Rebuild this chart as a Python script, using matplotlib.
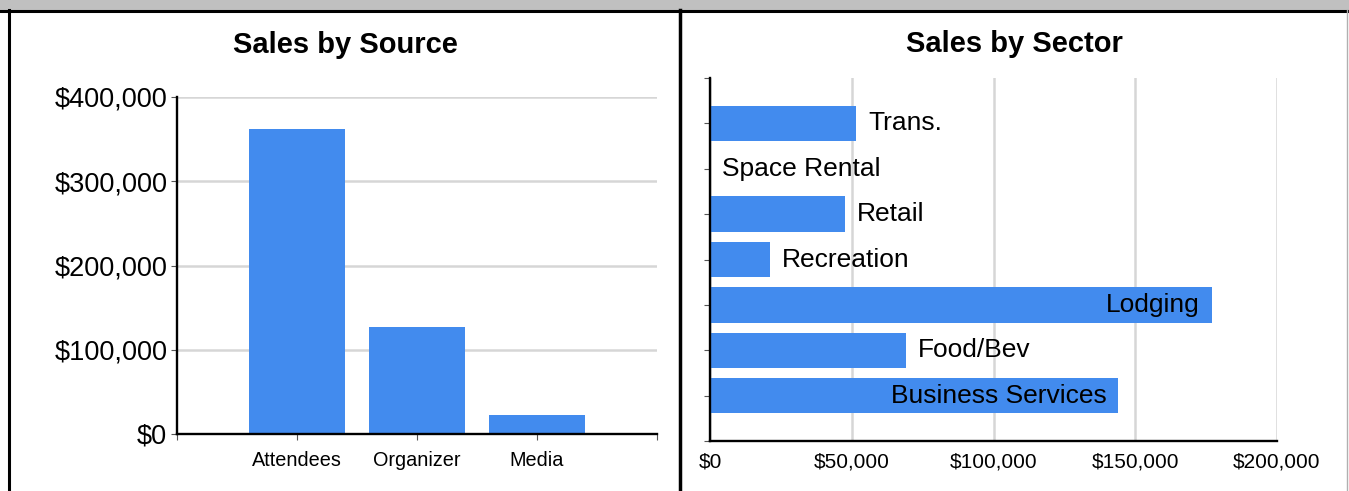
import matplotlib.pyplot as plt
from matplotlib.lines import Line2D
from matplotlib.patches import Rectangle
from matplotlib.ticker import StrMethodFormatter

plt.rcParams.update({
    "font.family": ["Liberation Sans", "DejaVu Sans"]})

# data
sources = ["Attendees", "Organizer", "Media"]
source_sales = [362000, 127000, 22500]

sectors = ["Business Services", "Food/Bev", "Lodging", "Recreation",
           "Retail", "Space Rental", "Trans."]
sector_sales = [144000, 69000, 177000, 21000, 47500, 0, 51500]

blue = "#428bee"
grid_c = "#d6d6d6"
W, H = 1349, 491

fig = plt.figure(figsize=(W / 100, H / 100), dpi=100)


def frac(x0, y0, x1, y1):
    # pixel box -> figure fraction [left, bottom, width, height]
    return [x0 / W, 1 - y1 / H, (x1 - x0) / W, (y1 - y0) / H]


# frame of the two panels
fig.add_artist(Rectangle((0, 1 - 10 / H), 1, 10 / H, transform=fig.transFigure,
                         color="#c0c0c0", lw=0))
fig.add_artist(Line2D([0, 1], [1 - 10.5 / H] * 2, transform=fig.transFigure,
                      color="black", lw=2.2))
fig.add_artist(Line2D([8.5 / W] * 2, [0, 1 - 10 / H], transform=fig.transFigure,
                      color="black", lw=2.2))
fig.add_artist(Line2D([680 / W] * 2, [0, 1 - 10 / H], transform=fig.transFigure,
                      color="black", lw=2.5))
fig.add_artist(Line2D([1346.5 / W] * 2, [0, 1 - 10 / H], transform=fig.transFigure,
                      color="#b0b0b0", lw=1))

# left: Sales by Source
ax = fig.add_axes(frac(177, 97, 657, 434))
ax.bar(range(1, len(sources) + 1), source_sales, width=0.8, color=blue, zorder=2)
ax.set_xlim(0, 4)
ax.set_ylim(0, 400000)
ax.set_yticks([0, 100000, 200000, 300000, 400000])
ax.yaxis.set_major_formatter(StrMethodFormatter("${x:,.0f}"))
ax.set_xticks(range(5))
ax.set_xticklabels([""] + sources + [""])
ax.grid(axis="y", color=grid_c, lw=1.8, zorder=0)
for s in ["top", "right"]:
    ax.spines[s].set_visible(False)
for s in ["left", "bottom"]:
    ax.spines[s].set_linewidth(1.7)
    ax.spines[s].set_zorder(3)
ax.tick_params(axis="y", length=4, width=0.8, color="#555555", pad=3,
               labelsize=19.5)
ax.tick_params(axis="x", length=4, width=0.8, color="#555555", pad=8,
               labelsize=14.3)
fig.text(345 / W, 1 - 45 / H, "Sales by Source", ha="center", va="center",
         fontsize=21, fontweight="bold")

# right: Sales by Sector
ax1 = fig.add_axes(frac(710, 78, 1277, 441))
pos = list(range(len(sectors)))
ax1.barh(pos, sector_sales, height=0.78, color=blue, zorder=2)
ax1.set_xlim(0, 200000)
ax1.set_ylim(-1, 7)
ax1.set_yticks(range(-1, 8))
ax1.set_yticklabels([])
ax1.set_xticks([0, 50000, 100000, 150000, 200000])
ax1.xaxis.set_major_formatter(StrMethodFormatter("${x:,.0f}"))
ax1.grid(axis="x", color=grid_c, lw=1.8, zorder=0)
for s in ["top", "right"]:
    ax1.spines[s].set_visible(False)
for s in ["left", "bottom"]:
    ax1.spines[s].set_linewidth(1.7)
    ax1.spines[s].set_zorder(3)
ax1.tick_params(axis="y", length=4, width=0.8, color="#555555")
ax1.tick_params(axis="x", length=0, pad=8, labelsize=15)
for p, v, name in zip(pos, sector_sales, sectors):
    if v > 100000:
        ax1.annotate(name, (v, p), xytext=(-8.5, 0), textcoords="offset points",
                     ha="right", va="center", fontsize=19, zorder=4)
    else:
        ax1.annotate(name, (v, p), xytext=(9, 0), textcoords="offset points",
                     ha="left", va="center", fontsize=19, zorder=4)
fig.text(1014.5 / W, 1 - 44 / H, "Sales by Sector", ha="center", va="center",
         fontsize=21, fontweight="bold")

fig.savefig("out.png", dpi=100)
